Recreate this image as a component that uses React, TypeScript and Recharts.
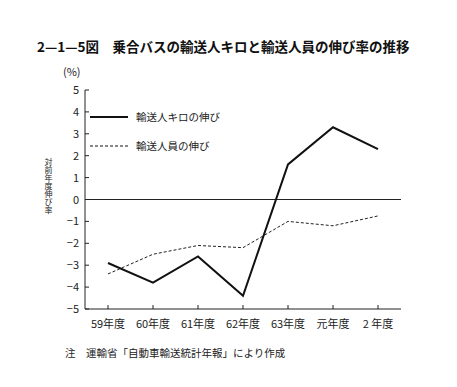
import { LineChart, Line, XAxis, YAxis, ReferenceLine } from 'recharts';

const years = ['59年度', '60年度', '61年度', '62年度', '63年度', '元年度', '2 年度'];
const kiloGrowth = [-2.9, -3.8, -2.6, -4.4, 1.6, 3.3, 2.3];
const riderGrowth = [-3.4, -2.5, -2.1, -2.2, -1.0, -1.2, -0.75];
const yTicks = [-5, -4, -3, -2, -1, 0, 1, 2, 3, 4, 5];

const data = years.map((year, i) => ({
  year,
  kilo: kiloGrowth[i],
  rider: riderGrowth[i],
}));

const FONT = '"Noto Sans CJK JP", "Noto Sans", sans-serif';

function YTick(props: any) {
  const { x, y, payload } = props;
  const v = payload.value as number;
  const label = v < 0 ? '−' + Math.abs(v) : String(v);
  return (
    <g>
      <line x1={x} x2={x + 4} y1={y} y2={y} stroke="#222" />
      <text x={x - 6} y={y + 4} textAnchor="end" fontSize={11} fill="#222" fontFamily={FONT}>
        {label}
      </text>
    </g>
  );
}

function XTick(props: any) {
  const { x, y, payload } = props;
  return (
    <g>
      <line x1={x} x2={x} y1={y} y2={y - 4} stroke="#222" />
      <text x={x} y={y + 19} textAnchor="middle" fontSize={11} fill="#222" fontFamily={FONT}>
        {payload.value}
      </text>
    </g>
  );
}

function LegendBox() {
  const row = (dash: string | undefined, width: number, label: string) => (
    <div style={{ display: 'flex', alignItems: 'center', height: 29 }}>
      <svg width={48} height={6}>
        <line x1={4} x2={42} y1={3} y2={3} stroke="#111" strokeWidth={width} strokeDasharray={dash} />
      </svg>
      <span style={{ fontSize: 10.5, color: '#222', fontFamily: FONT, marginLeft: 2 }}>{label}</span>
    </div>
  );
  return (
    <div>
      {row(undefined, 2, '輸送人キロの伸び')}
      {row('3 2', 1, '輸送人員の伸び')}
    </div>
  );
}

export default function App() {
  return (
    <div style={{ position: 'relative', width: 457, height: 387, margin: -8, background: '#fff', fontFamily: FONT }}>
      <div style={{ position: 'absolute', left: 37, top: 36, fontSize: 13.5, fontWeight: 700, color: '#111', whiteSpace: 'nowrap' }}>
        2—1—5図　乗合バスの輸送人キロと輸送人員の伸び率の推移
      </div>
      <div style={{ position: 'absolute', left: 63, top: 64, fontSize: 11, lineHeight: '14px', color: '#222' }}>(%)</div>
      <div style={{ position: 'absolute', left: 0, top: 0 }}>
        <LineChart width={457} height={387} data={data} margin={{ top: 90, right: 56, bottom: 48, left: 45 }}>
          <XAxis
            dataKey="year"
            height={30}
            padding={{ left: 23, right: 23 }}
            axisLine={{ stroke: '#222' }}
            tickLine={false}
            tickSize={0}
            tickMargin={0}
            tick={<XTick />}
            interval={0}
          />
          <XAxis xAxisId="top" orientation="top" dataKey="year" height={0} tick={false} tickLine={false} axisLine={{ stroke: '#444', strokeDasharray: '1 1' }} />
          <YAxis
            domain={[-5, 5]}
            ticks={yTicks}
            width={40}
            axisLine={{ stroke: '#222' }}
            tickLine={false}
            tickSize={0}
            tickMargin={0}
            tick={<YTick />}
            interval={0}
          />
          <YAxis yAxisId="right" orientation="right" domain={[-5, 5]} width={0} tick={false} tickLine={false} axisLine={{ stroke: '#222' }} />
          <ReferenceLine y={0} stroke="#222" strokeWidth={1} />
          <Line dataKey="kilo" stroke="#111" strokeWidth={2} dot={false} isAnimationActive={false} />
          <Line dataKey="rider" stroke="#222" strokeWidth={1} strokeDasharray="3 2" dot={false} isAnimationActive={false} />
        </LineChart>
      </div>
      <div style={{ position: 'absolute', left: 86, top: 102 }}>
        <LegendBox />
      </div>
      <div
        style={{
          position: 'absolute',
          left: 43,
          top: 158,
          fontSize: 8,
          lineHeight: '10px',
          color: '#222',
          writingMode: 'vertical-rl',
          whiteSpace: 'nowrap',
        }}
      >
        対前年度伸び率
      </div>
      <div style={{ position: 'absolute', left: 65, top: 345, fontSize: 10.5, color: '#222', whiteSpace: 'nowrap' }}>
        注　運輸省「自動車輸送統計年報」により作成
      </div>
    </div>
  );
}
